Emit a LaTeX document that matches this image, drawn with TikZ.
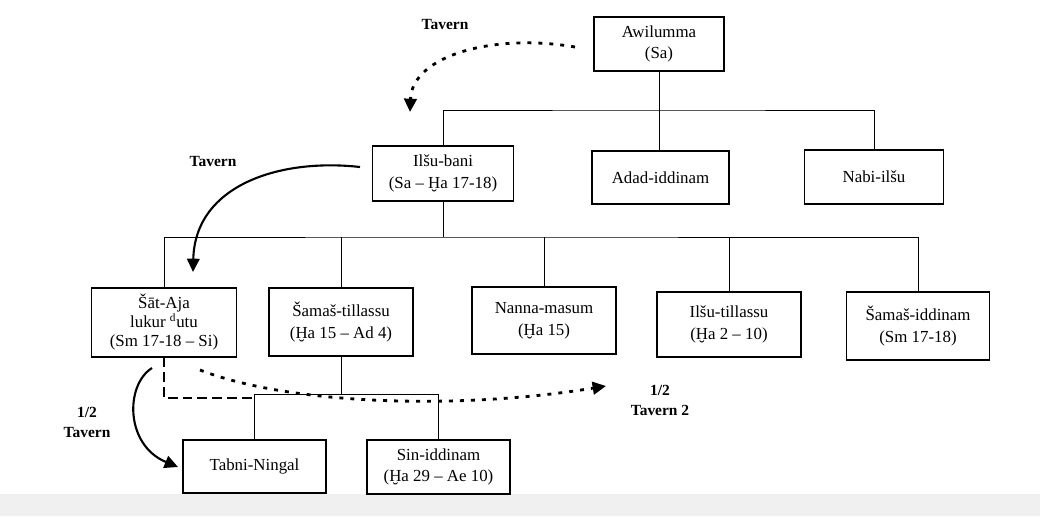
\documentclass[tikz,border=0pt]{standalone}
\usepackage{fontspec}
\setmainfont{Liberation Serif}
\usetikzlibrary{arrows.meta}

\begin{document}
\begin{tikzpicture}[x=0.025cm, y=-0.025cm,
  person/.style={draw, line width=0.8pt, align=center, inner sep=0pt,
    minimum width=3.6cm, minimum height=1.7cm, font=\fontsize{12}{15.5}\selectfont},
  tree/.style={line width=0.7pt},
  lbl/.style={align=center, font=\fontsize{11}{14.2}\selectfont\bfseries},
  tav/.style={line width=1.5pt, -{Triangle[length=9.5pt,width=9pt]}},
  tavdot/.style={tav, line width=2pt, dash pattern=on 2.8pt off 5pt},
  share/.style={line width=0.8pt, dash pattern=on 7pt off 3.5pt}]

  \fill[gray!12] (0,494) rectangle (1040,516);
  \useasboundingbox (0,0) rectangle (1040,516);

  \node[person, minimum width=3.25cm, minimum height=1.35cm] (awil) at (659,44) {Awilumma\\(Sa)};

  \node[person, minimum width=3.525cm, minimum height=1.375cm] (ilsub) at (443,173.5) {Ilšu-bani\\(Sa – Ḫa 17-18)};
  \node[person, minimum width=3.425cm, minimum height=1.325cm] (adad) at (660.5,177.5) {Adad-iddinam};
  \node[person, minimum width=3.475cm, minimum height=1.35cm] (nabi) at (874,177) {Nabi-ilšu};

  \node[person, minimum width=3.625cm, minimum height=1.725cm, font=\fontsize{12}{13.5}\selectfont] (satay) at (164,322.5) {Šāt-Aja\\lukur \textsuperscript{d}utu\\(Sm 17-18 – Si)};
  \node[person] (samt) at (341,322) {Šamaš-tillassu\\(Ḫa 15 – Ad 4)};
  \node[person, minimum height=1.675cm] (nanna) at (544,320.5) {Nanna-masum\\(Ḫa 15)};
  \node[person, minimum height=1.625cm] (ilsut) at (729,324.5) {Ilšu-tillassu\\(Ḫa 2 – 10)};
  \node[person, minimum width=3.575cm] (samid) at (918,326) {Šamaš-iddinam\\(Sm 17-18)};

  \node[person, minimum width=3.575cm, minimum height=1.325cm] (tabni) at (254.5,466.5) {Tabni-Ningal};
  \node[person, minimum width=3.575cm, minimum height=1.35cm] (sin) at (438.5,467) {Sin-iddinam\\(Ḫa 29 – Ae 10)};

  \coordinate (j1) at (659,110);
  \coordinate (j2) at (443,237);
  \coordinate (j3) at (341,394);

  \draw[tree] (awil.south) -- (j1);
  \draw[tree] (ilsub.north) |- (j1) -| (nabi.north);
  \draw[tree] (j1) -- (j1 |- adad.north);

  \draw[tree] (ilsub.south) -- (j2);
  \draw[tree] (satay.north) |- (j2) -| (samid.north);
  \foreach \n in {samt,nanna,ilsut}
    \draw[tree] (\n.north) -- (\n.north |- j2);

  \draw[tree] (samt.south) -- (j3);
  \draw[tree] (tabni.north) |- (j3) -| (sin.north);

  \coordinate (a1s) at (575,47);
  \coordinate (a1e) at (410,112);
  \coordinate (a2s) at (360,167);
  \coordinate (a2e) at (193,272);
  \coordinate (a3s) at (200,370);
  \coordinate (a3e) at (606,386);
  \coordinate (a4s) at (152,368);
  \coordinate (a4e) at (178,467);
  \coordinate (dend) at (253,398);

  \draw[tavdot] (a1s) .. controls (495,33) and (412,55) .. (a1e);
  \draw[tav] (a2s) .. controls (280,158) and (195,185) .. (a2e);
  \draw[share] (satay.south) |- (dend);
  \draw[tavdot] (a3s) .. controls (290,405) and (460,410) .. (a3e);
  \draw[tav] (a4s) .. controls (125,385) and (125,445) .. (a4e);

  \node[lbl] (tav1) at (445,25) {Tavern};
  \node[lbl] (tav2) at (213,162) {Tavern};
  \node[lbl] (tav3) at (87,422) {1/2\\Tavern};
  \node[lbl] (tav4) at (660,400) {1/2\\Tavern 2};
\end{tikzpicture}
\end{document}
